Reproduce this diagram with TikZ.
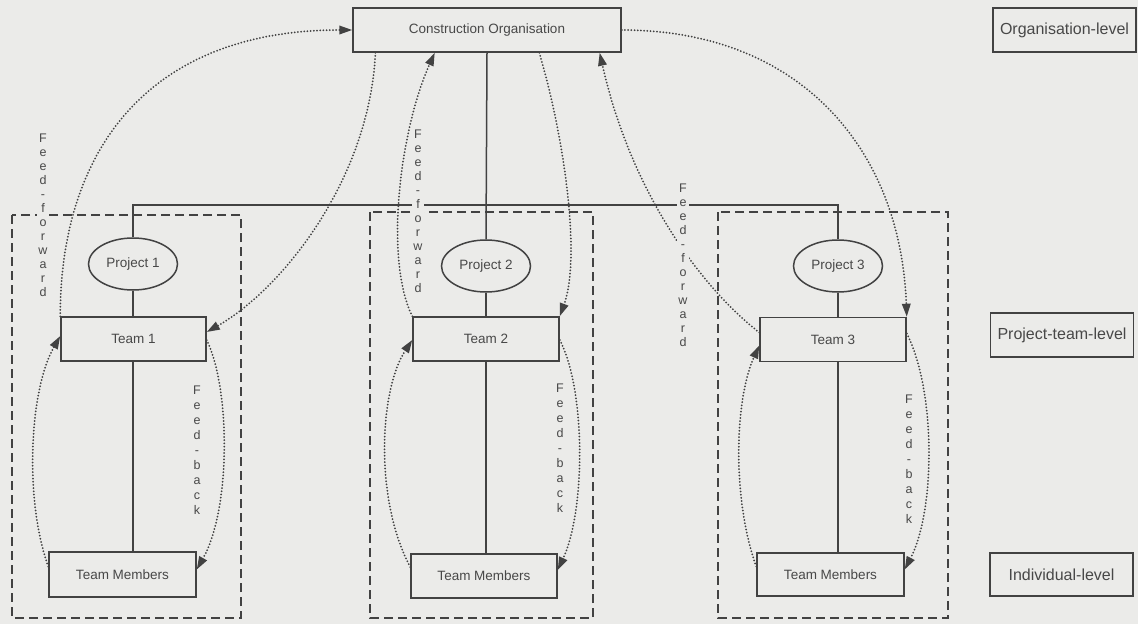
\documentclass[tikz,border=0pt]{standalone}
\usepackage{fontspec}
\setmainfont{Liberation Sans}
\usetikzlibrary{shapes.geometric,arrows.meta,calc}
\definecolor{paper}{RGB}{235,235,233}
\definecolor{ink}{RGB}{66,66,66}
\definecolor{inktext}{RGB}{72,72,72}

\begin{document}
\begin{tikzpicture}[x=1pt,y=-1pt,
  every node/.style={text=inktext},
  unit/.style={draw=ink, line width=1.5pt, rectangle, minimum height=44pt,
    inner sep=0pt, font=\fontsize{13.5}{16}\selectfont},
  proj/.style={draw=ink, line width=1.5pt, ellipse, minimum width=89pt,
    minimum height=52pt, inner sep=0pt, font=\fontsize{13.5}{16}\selectfont},
  level/.style={unit, minimum width=143pt, font=\fontsize{16}{19}\selectfont},
  group/.style={draw=ink, line width=1.3pt, dash pattern=on 9pt off 5pt},
  tie/.style={draw=ink, line width=1.5pt},
  flowline/.style={draw=ink, line width=2pt, line cap=round, dash pattern=on 0pt off 3.2pt},
  flow/.style={flowline, -{Triangle[length=13pt,width=8.5pt]}},
  vlabel/.style={fill=paper, inner sep=1pt, align=center,
    font=\fontsize{12.5}{14}\selectfont},
  vlabelb/.style={vlabel, font=\fontsize{12.5}{15}\selectfont},
]
% page
\fill[paper] (0,0) rectangle (1138,624);
\useasboundingbox (0,0) rectangle (1138,624);

% project groups
\draw[group] (12,215) rectangle (241,618);
\draw[group] (370,212) rectangle (593,618);
\draw[group] (718,212) rectangle (948,618);

% organisation
\node[unit, minimum width=268pt] (org) at (487,30) {Construction Organisation};

% projects
\node[proj] (proj1) at (133,264) {Project 1};
\node[proj] (proj2) at (486,266) {Project 2};
\node[proj] (proj3) at (838,266) {Project 3};

% teams
\node[unit, minimum width=145pt] (team1) at (133.5,339) {Team 1};
\node[unit, minimum width=146pt] (team2) at (486,339) {Team 2};
\node[unit, minimum width=146pt] (team3) at (833,339.5) {Team 3};

% team members
\node[unit, minimum width=147pt, minimum height=45pt] (tm1) at (122.5,574.5) {Team Members};
\node[unit, minimum width=146pt, minimum height=44pt] (tm2) at (484,576) {Team Members};
\node[unit, minimum width=147pt, minimum height=43pt] (tm3) at (830.5,574.5) {Team Members};

% level labels
\node[level] (lorg) at (1064.5,30) {Organisation-level};
\node[level] (lteam) at (1062,335) {Project-team-level};
\node[level, minimum height=43pt] (lind) at (1061.5,574.5) {Individual-level};

% hierarchy lines
\coordinate (bus) at (486,205);
\draw[tie] (org.south) -- (proj2.north);
\draw[tie] (proj1.north) |- (bus) -| (proj3.north);
\draw[tie] (proj1.south) -- (proj1.south |- team1.north);
\draw[tie] (proj1.south |- team1.south) -- (proj1.south |- tm1.north);
\draw[tie] (proj2.south) -- (proj2.south |- team2.north);
\draw[tie] (proj2.south |- team2.south) -- (proj2.south |- tm2.north);
\draw[tie] (proj3.south) -- (proj3.south |- team3.north);
\draw[tie] (proj3.south |- team3.south) -- (proj3.south |- tm3.north);

% feed-forward / feed-back between organisation and teams
\draw[flow] (team1.north west) .. controls +(0,-167) and +(-203,0) .. (org.west);
\draw[flow] ($(org.south west)!0.086!(org.south east)$)
  .. controls +(-6,128) and +(74,-42) .. ($(team1.east)+(0,-7)$);
\draw[flow] (team2.north west)
  .. controls +(-28,-57) and +(-35,78) .. ($(org.south west)!0.306!(org.south east)$);
\draw[flow] ($(org.south west)!0.694!(org.south east)$)
  .. controls +(26,88) and +(21,-57) .. (team2.north east);
\draw[flow] ($(team3.west)+(0,-7)$)
  .. controls +(-60,-47) and +(31,138) .. ($(org.south west)!0.918!(org.south east)$);
\draw[flow] (org.east) .. controls +(179,0) and +(-6,-167) .. (team3.north east);

% feed-back loops between teams and members
\draw[flow] ($(tm1.west)+(0,-8)$) .. controls +(-24,-67) and +(-31,54) .. ($(team1.west)+(0,-3)$);
\draw[flow] ($(team1.east)+(0,1)$) .. controls +(24,50) and +(34,-60) .. ($(tm1.east)+(0,-5)$);
\draw[flow] ($(tm2.west)+(0,-9)$) .. controls +(-36,-67) and +(-33,50) .. ($(team2.west)+(0,1)$);
\draw[flow] ($(team2.east)+(0,1)$) .. controls +(26,50) and +(28,-60) .. ($(tm2.east)+(0,-6)$);
\draw[flow] ($(tm3.west)+(0,-8)$) .. controls +(-24,-67) and +(-25,55) .. ($(team3.west)+(0,6)$);
\draw[flow] ($(team3.east)+(0,-6)$) .. controls +(29,57) and +(31,-60) .. ($(tm3.east)+(0,-5)$);

% vertical flow labels
\node[vlabel] (ff1) at (43,215) {F\\e\\e\\d\\-\\f\\o\\r\\w\\a\\r\\d};
\node[vlabel] (ff2) at (418,211) {F\\e\\e\\d\\-\\f\\o\\r\\w\\a\\r\\d};
\node[vlabel] (ff3) at (683,265) {F\\e\\e\\d\\-\\f\\o\\r\\w\\a\\r\\d};
\node[vlabelb] (fb1) at (197,450) {F\\e\\e\\d\\-\\b\\a\\c\\k};
\node[vlabelb] (fb2) at (560,448) {F\\e\\e\\d\\-\\b\\a\\c\\k};
\node[vlabelb] (fb3) at (909,459) {F\\e\\e\\d\\-\\b\\a\\c\\k};
\end{tikzpicture}
\end{document}
